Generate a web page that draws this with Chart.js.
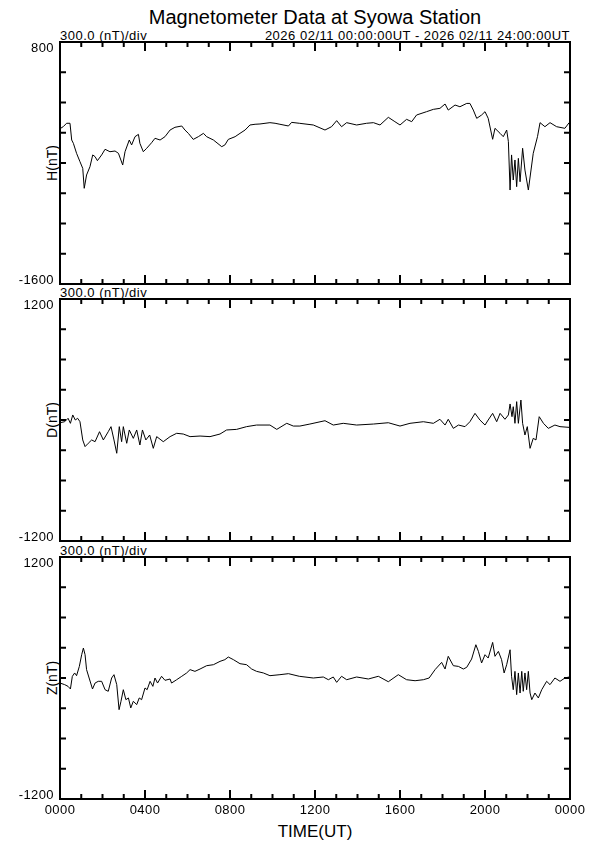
<!DOCTYPE html>
<html>
<head>
<meta charset="utf-8">
<script src="https://cdn.jsdelivr.net/npm/chart.js@4.4.1/dist/chart.umd.min.js"></script>
<style>
  body { margin: 0; background: #fff; }
  #page { position: relative; width: 595px; height: 842px; font-family: "Liberation Sans", Arial, sans-serif; color: #000; }
  #page canvas { position: absolute; left: 0; }
  .txt { position: absolute; white-space: nowrap; font-size: 13px; line-height: 13px; letter-spacing: 0.5px; }
  .ytitle { position: absolute; width: 60px; height: 16px; line-height: 16px; font-size: 14px; text-align: center; transform: rotate(-90deg); }
</style>
</head>
<body>
<div id="page">
  <div class="txt" style="left:60px;width:510px;top:7px;font-size:20px;line-height:20px;letter-spacing:0;text-align:center">Magnetometer Data at Syowa Station</div>
  <div class="txt" style="left:60px;top:29px">300.0 (nT)/div</div>
  <div class="txt" style="left:60px;width:510px;top:29px;text-align:right">2026 02/11 00:00:00UT - 2026 02/11 24:00:00UT</div>
  <div class="txt" style="left:60px;top:286px">300.0 (nT)/div</div>
  <div class="txt" style="left:60px;top:544px">300.0 (nT)/div</div>
  <div class="ytitle" style="left:22px;top:155px">H(nT)</div>
  <div class="ytitle" style="left:22px;top:412px">D(nT)</div>
  <div class="ytitle" style="left:22px;top:670px">Z(nT)</div>
  <div class="txt" style="left:60px;width:510px;top:823px;font-size:17px;line-height:17px;letter-spacing:0;text-align:center">TIME(UT)</div>

  <canvas id="chartH" width="595" height="262" style="top:32px"></canvas>
  <canvas id="chartD" width="595" height="262" style="top:289px"></canvas>
  <canvas id="chartZ" width="595" height="282" style="top:547px"></canvas>
</div>
<script>
// hours (UT) and nT values
const hTime = [0.0,0.15,0.31,0.47,0.55,0.63,0.78,0.94,1.07,1.14,1.25,1.41,1.54,1.65,1.76,1.96,2.12,2.35,2.59,2.75,2.95,3.06,3.26,3.37,3.53,3.69,3.76,3.92,4.08,4.31,4.47,4.71,4.94,5.18,5.41,5.73,5.88,6.04,6.27,6.51,6.75,6.9,7.22,7.61,7.76,7.92,8.24,8.47,8.71,8.94,9.18,9.41,9.88,10.12,10.35,10.75,10.9,11.26,11.92,12.47,12.78,13.02,13.25,13.49,13.96,14.43,14.75,15.06,15.45,15.76,16.0,16.31,16.55,16.78,17.25,17.57,17.88,18.12,18.27,18.59,18.82,19.14,19.29,19.45,19.61,19.84,20.0,20.15,20.36,20.47,20.71,20.86,21.02,21.1,21.18,21.25,21.33,21.41,21.49,21.57,21.65,21.77,21.88,22.04,22.27,22.47,22.59,22.82,23.06,23.37,23.76,23.96];
const hValues = [-60,-40,-6,-6,-172,-205,-304,-387,-453,-651,-519,-437,-320,-337,-377,-320,-264,-288,-281,-304,-420,-288,-172,-221,-139,-116,-205,-288,-254,-199,-155,-172,-139,-73,-46,-33,-73,-106,-166,-139,-106,-139,-172,-238,-221,-166,-139,-106,-73,-23,-16,-13,0,-6,-16,-33,3,-6,-23,-73,-40,20,-40,0,-23,-6,0,-23,53,10,-23,33,10,76,109,132,142,185,125,175,158,191,191,125,43,76,109,43,-165,-56,-106,-139,-73,-188,-668,-320,-569,-370,-635,-354,-586,-254,-470,-668,-304,-139,0,-40,0,-40,-56,0];

const dTime = [0.0,0.22,0.38,0.49,0.6,0.72,0.83,0.94,1.07,1.18,1.33,1.49,1.65,1.86,2.04,2.27,2.4,2.54,2.67,2.79,2.9,2.98,3.14,3.26,3.45,3.61,3.76,3.88,4.04,4.22,4.39,4.55,4.86,5.18,5.49,5.8,6.12,6.59,7.06,7.53,7.84,8.31,8.78,9.25,9.88,10.2,10.67,10.98,11.29,11.76,12.47,12.86,13.33,13.96,14.75,15.45,16.0,16.47,17.1,17.57,17.88,18.12,18.27,18.51,18.75,19.06,19.29,19.53,19.76,20.0,20.15,20.36,20.55,20.71,20.94,21.1,21.18,21.27,21.33,21.41,21.49,21.57,21.69,21.77,21.88,21.99,22.12,22.27,22.4,22.55,22.75,22.98,23.29,23.53,23.96];
const dValues = [-27,-17,17,-33,50,0,17,-17,-198,-264,-231,-198,-215,-116,-198,-116,-66,-198,-330,-66,-215,-66,-231,-99,-182,-99,-248,-99,-198,-149,-281,-165,-215,-165,-132,-139,-165,-159,-165,-139,-99,-93,-66,-50,-50,-93,-33,-60,-60,-40,-7,-50,-33,-50,-40,-27,-60,-33,-17,-33,7,-50,7,-83,-50,-66,-17,66,0,-50,0,66,-17,66,7,50,159,33,132,-33,182,-33,198,-33,-149,-66,-281,-182,-198,33,-33,-83,-50,-66,-73];

const zTime = [0.0,0.22,0.38,0.49,0.58,0.69,0.78,0.91,1.02,1.1,1.18,1.25,1.37,1.53,1.65,1.8,1.96,2.12,2.27,2.43,2.54,2.67,2.78,2.87,2.98,3.1,3.22,3.33,3.45,3.61,3.73,3.84,4.0,4.1,4.24,4.37,4.47,4.59,4.78,4.94,5.18,5.25,5.49,5.73,5.96,6.12,6.35,6.59,6.9,7.22,7.53,7.76,7.92,8.16,8.47,8.78,9.02,9.25,9.57,9.88,10.35,10.75,11.26,11.92,12.39,12.63,12.86,13.02,13.25,13.49,13.96,14.51,14.98,15.45,15.92,16.31,16.71,17.1,17.37,17.65,17.96,18.12,18.27,18.51,18.75,18.98,19.14,19.37,19.57,19.69,19.84,20.0,20.15,20.36,20.47,20.63,20.78,20.9,21.02,21.18,21.25,21.33,21.41,21.49,21.57,21.65,21.73,21.8,21.88,21.96,22.04,22.12,22.2,22.35,22.51,22.67,22.9,23.06,23.29,23.53,23.76,23.96];
const zValues = [-50,-66,-83,-109,16,50,23,115,231,297,231,83,0,-109,-50,-33,-33,-116,-132,0,33,-66,-314,-231,-116,-215,-198,-297,-231,-264,-198,-215,-99,-116,-33,-83,0,-50,17,-23,-10,-50,-17,17,50,83,66,89,122,132,165,182,208,182,142,132,89,66,50,23,33,43,17,0,10,-17,10,-43,17,-17,10,-10,17,-37,33,-17,-27,-17,0,83,155,89,215,122,115,89,106,188,330,264,149,231,198,353,215,264,182,50,132,280,17,-116,66,-165,50,-149,66,-132,50,-116,66,-149,-215,-149,-198,-116,-33,-66,0,-33,0,10];

const timeLabels = ['0000','0400','0800','1200','1600','2000','0000'];
const hRange = [-1600, 800];
const dRange = [-1200, 1200];
const zRange = [-1200, 1200];
const perDiv = 300;

const frame = {
  id: 'frame',
  afterDraw(chart, args, opts) {
    const ctx = chart.ctx;
    const a = chart.chartArea;
    const x = chart.scales.x;
    const y = chart.scales.y;
    const seg = (x1, y1, x2, y2) => { ctx.beginPath(); ctx.moveTo(x1, y1); ctx.lineTo(x2, y2); ctx.stroke(); };
    ctx.save();
    ctx.strokeStyle = '#000';
    ctx.lineWidth = 2;
    ctx.strokeRect(a.left, a.top, a.right - a.left, a.bottom - a.top);
    x.ticks.forEach(t => {
      if (t.value <= x.min || t.value >= x.max) return;
      const px = x.getPixelForValue(t.value);
      const len = t.value % 4 === 0 ? 9 : 5;
      seg(px, a.top, px, a.top + len);
      seg(px, a.bottom, px, a.bottom - len);
    });
    y.ticks.forEach(t => {
      if (t.value <= y.min || t.value >= y.max) return;
      const py = y.getPixelForValue(t.value);
      seg(a.left, py, a.left + 6, py);
      seg(a.right, py, a.right - 6, py);
    });
    ctx.fillStyle = '#000';
    ctx.font = '13px "Liberation Sans", Arial, sans-serif';
    ctx.letterSpacing = '0.4px';
    ctx.textAlign = 'right';
    ctx.textBaseline = 'alphabetic';
    ctx.fillText(String(y.max), a.left - 6, a.top + 10);
    ctx.fillText(String(y.min), a.left - 6, a.bottom);
    if (opts.timeAxis) {
      ctx.textAlign = 'center';
      timeLabels.forEach((lab, i) => {
        ctx.fillText(lab, x.getPixelForValue(i * 4), a.bottom + 14.5);
      });
    }
    ctx.restore();
  }
};

function makeChart(id, times, values, range, timeAxis) {
  const canvas = document.getElementById(id);
  return new Chart(canvas.getContext('2d'), {
    type: 'line',
    data: {
      datasets: [{
        data: times.map((t, i) => ({ x: t, y: values[i] })),
        borderColor: '#000',
        borderWidth: 1,
        pointRadius: 0,
        tension: 0,
        fill: false
      }]
    },
    options: {
      responsive: false,
      animation: false,
      devicePixelRatio: 1,
      layout: { padding: { left: 60, right: 25, top: 10, bottom: canvas.height - 252 } },
      plugins: { legend: { display: false }, tooltip: { enabled: false }, frame: { timeAxis: timeAxis } },
      scales: {
        x: { type: 'linear', display: false, min: 0, max: 24, ticks: { stepSize: 1 } },
        y: { type: 'linear', display: false, min: range[0], max: range[1], ticks: { stepSize: perDiv } }
      }
    },
    plugins: [frame]
  });
}

makeChart('chartH', hTime, hValues, hRange, false);
makeChart('chartD', dTime, dValues, dRange, false);
makeChart('chartZ', zTime, zValues, zRange, true);
</script>
</body>
</html>
